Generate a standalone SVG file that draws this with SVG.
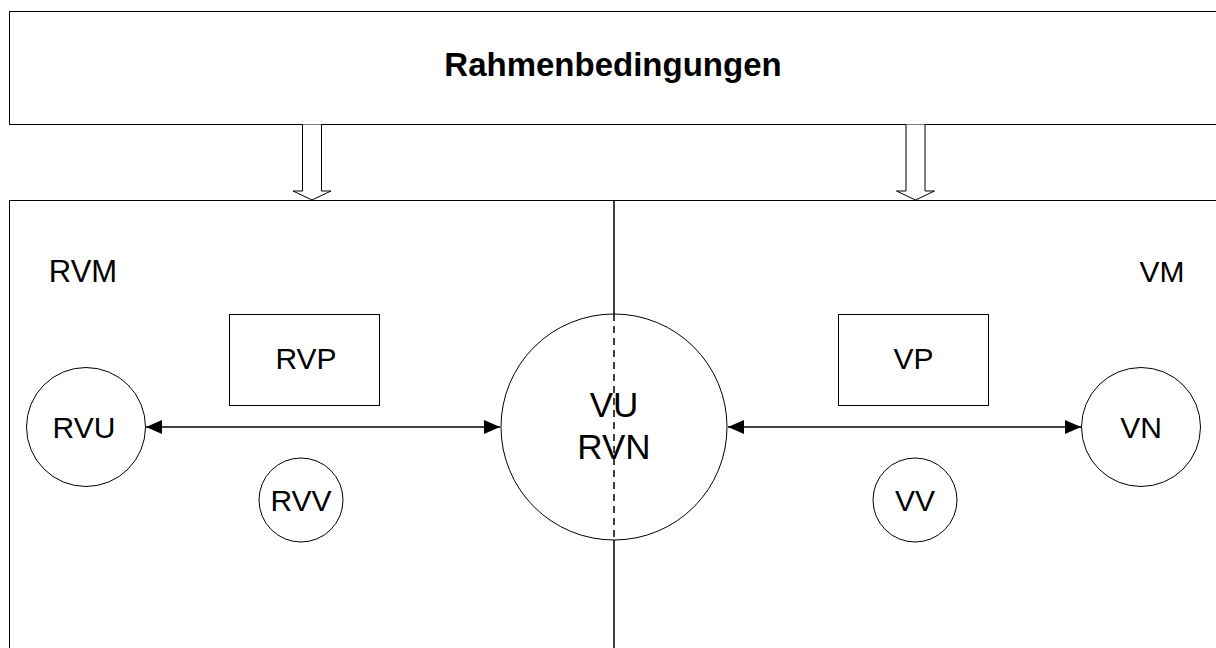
<svg xmlns="http://www.w3.org/2000/svg" width="1216" height="648" viewBox="0 0 1216 648">
<defs>
<style>
.s{fill:#fff;stroke:#000;stroke-width:1}
.t{font-family:"Liberation Sans",Arial,sans-serif;fill:#000;text-anchor:middle}
.c{stroke:#000;stroke-width:1.5;fill:none}
</style>
<marker id="ah" viewBox="0 0 16 14" refX="16" refY="7" markerWidth="16" markerHeight="14" markerUnits="userSpaceOnUse" orient="auto-start-reverse">
<path d="M0,0 L16,7 L0,14 z" fill="#000"/>
</marker>
</defs>
<rect width="1216" height="648" fill="#fff"/>
<g id="rahmen">
<rect class="s" x="9.5" y="11.5" width="1220" height="113"/>
<text class="t" x="613" y="76" font-size="33" font-weight="bold">Rahmenbedingungen</text>
</g>
<g id="bereich">
<rect class="s" x="9.5" y="200.5" width="1220" height="460"/>
<text class="t" x="83" y="282" font-size="31">RVM</text>
<text class="t" x="1162" y="282" font-size="30">VM</text>
</g>
<g id="pfeile-oben">
<path class="s" d="M302.5,124.5 V191 H293 L312,200 L331,191 H321.5 V124.5"/>
<path class="s" d="M906,124.5 V191 H896.5 L915.5,200 L934.5,191 H925 V124.5"/>
</g>
<g id="trennlinie">
<line x1="614" y1="200.5" x2="614" y2="314" stroke="#000" stroke-width="1.5"/>
<line x1="614" y1="540" x2="614" y2="648" stroke="#000" stroke-width="1.5"/>
</g>
<g id="VU-RVN">
<circle class="s" cx="614" cy="427" r="113"/>
<line x1="614" y1="314" x2="614" y2="540" stroke="#000" stroke-width="1.5" stroke-dasharray="7,5"/>
<text class="t" x="614" y="416.5" font-size="35">VU</text>
<text class="t" x="614" y="459" font-size="35">RVN</text>
</g>
<g id="RVU">
<circle class="s" cx="86" cy="427" r="59.5"/>
<text class="t" x="84" y="438" font-size="30">RVU</text>
</g>
<g id="RVP">
<rect class="s" x="229.5" y="314.5" width="150" height="91"/>
<text class="t" x="306" y="369" font-size="30">RVP</text>
</g>
<g id="RVV">
<circle class="s" cx="301" cy="500" r="42"/>
<text class="t" x="301" y="511" font-size="30">RVV</text>
</g>
<g id="VP">
<rect class="s" x="838.5" y="314.5" width="150" height="91"/>
<text class="t" x="913.5" y="369" font-size="30">VP</text>
</g>
<g id="VV">
<circle class="s" cx="915" cy="500" r="42"/>
<text class="t" x="915" y="511" font-size="30">VV</text>
</g>
<g id="VN">
<circle class="s" cx="1141" cy="427" r="59.5"/>
<text class="t" x="1141" y="438" font-size="30">VN</text>
</g>
<g id="connectors">
<line class="c" x1="146" y1="427" x2="500" y2="427" marker-start="url(#ah)" marker-end="url(#ah)"/>
<line class="c" x1="728" y1="427" x2="1081" y2="427" marker-start="url(#ah)" marker-end="url(#ah)"/>
</g>
</svg>
